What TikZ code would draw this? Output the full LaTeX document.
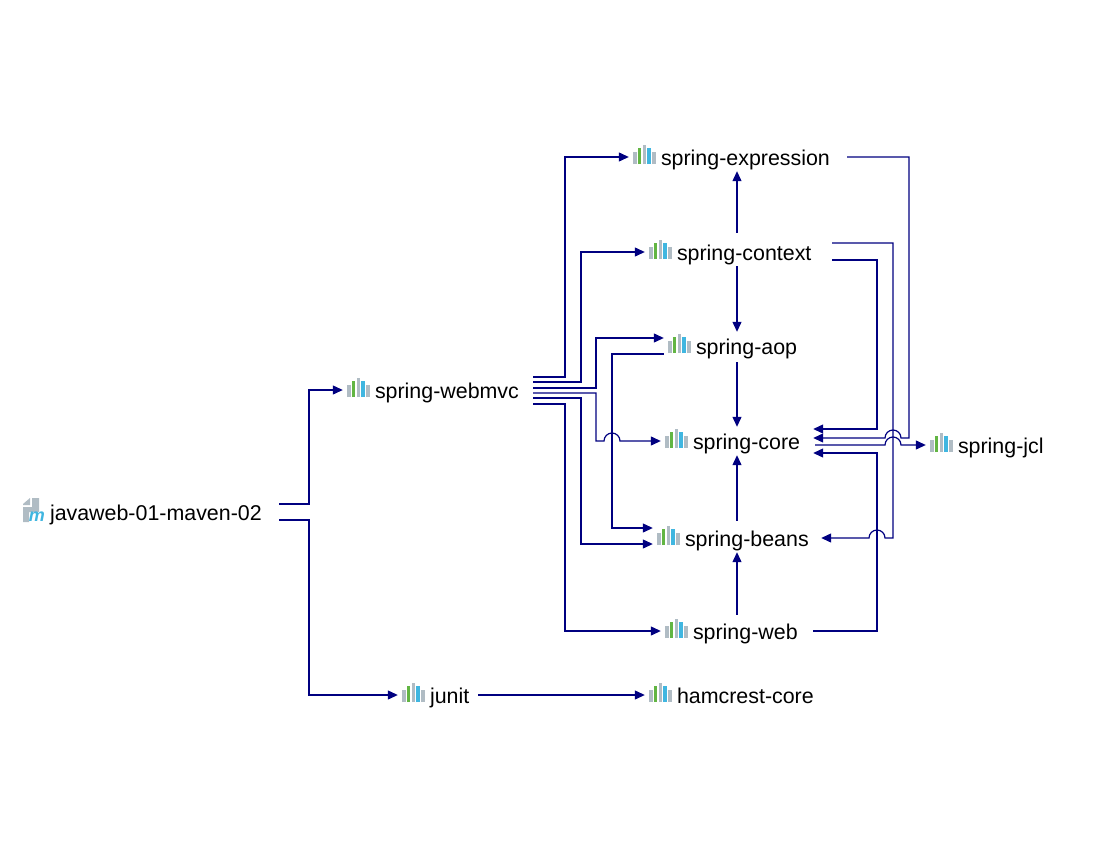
\documentclass[tikz,border=0pt]{standalone}
\usepackage{fontspec}
\setmainfont{Liberation Sans}
\usetikzlibrary{arrows.meta}
\definecolor{linkblue}{RGB}{0,0,128}
\definecolor{jargrey}{RGB}{176,188,196}
\definecolor{jargreen}{RGB}{98,181,67}
\definecolor{jarblue}{RGB}{64,182,224}
\newcommand{\jarbar}[2]{\textcolor{#1}{\rule[1pt]{3.6pt}{#2}}\hspace{1.2pt}}
\newcommand{\jaricon}{\hspace*{4pt}\jarbar{jargrey}{12pt}\jarbar{jargreen}{16pt}\jarbar{jargrey}{19pt}\jarbar{jarblue}{16pt}\jarbar{jargrey}{12pt}\hspace{4pt}}
\tikzset{
  dep/.style={text width=#1, align=left, inner sep=0pt, minimum height=28pt,
    text height=21pt, text depth=5pt, font=\fontsize{21.4}{24}\selectfont},
  link/.style={draw=linkblue, line width=1.2pt, -{Triangle[length=10pt,width=9pt]}},
  hop/.style={radius=8pt}
}
\begin{document}
\begin{tikzpicture}[x=1pt, y=-1pt]
\useasboundingbox (0,0) rectangle (1110,864);

\node[dep=259] (root) at (149.5,512) {\hspace*{30pt}javaweb-01-maven-02};
\fill[jargrey] (23,504) -- (30,498) -- (30,505) -- (23,505) -- cycle;
\fill[jargrey] (32,498) -- (39,498) -- (39,512) -- (29,512) -- (29,522) -- (23,522) -- (23,507) -- (32,507) -- cycle;
\node[inner sep=0pt, text=jarblue, font=\fontsize{18}{18}\bfseries\itshape\selectfont] (rootm) at (37,517) {m};

\node[dep=190] (webmvc) at (438,390) {\jaricon spring-webmvc};
\node[dep=80] (junit) at (438,695) {\jaricon junit};
\node[dep=216] (expression) at (737,157) {\jaricon spring-expression};
\node[dep=184] (context) at (737,252) {\jaricon spring-context};
\node[dep=146] (aop) at (737,346) {\jaricon spring-aop};
\node[dep=152] (core) at (737,441) {\jaricon spring-core};
\node[dep=168] (beans) at (737,538) {\jaricon spring-beans};
\node[dep=152] (web) at (737,631) {\jaricon spring-web};
\node[dep=184] (hamcrest) at (737,695) {\jaricon hamcrest-core};
\node[dep=134] (jcl) at (993,445) {\jaricon spring-jcl};

% routing channels
\coordinate (chanroot) at (309,0);
\coordinate (chanA) at (565,0);
\coordinate (chanB) at (581,0);
\coordinate (chanC) at (596,0);
\coordinate (chanD) at (612,0);
\coordinate (chanE) at (877,0);
\coordinate (chanF) at (893,0);
\coordinate (chanG) at (909,0);

% ports
\coordinate (rootup) at ([yshift=8pt]root.east);
\coordinate (rootdown) at ([yshift=-8pt]root.east);
\coordinate (webmvcA) at ([yshift=13pt]webmvc.east);
\coordinate (webmvcB) at ([yshift=8pt]webmvc.east);
\coordinate (webmvcC) at ([yshift=2pt]webmvc.east);
\coordinate (webmvcD) at ([yshift=-3pt]webmvc.east);
\coordinate (webmvcE) at ([yshift=-8pt]webmvc.east);
\coordinate (webmvcF) at ([yshift=-14pt]webmvc.east);
\coordinate (aopin) at ([yshift=8pt]aop.west);
\coordinate (aopout) at ([yshift=-8pt]aop.west);
\coordinate (beansA) at ([yshift=10pt]beans.west);
\coordinate (beansB) at ([yshift=-6pt]beans.west);
\coordinate (exprout) at ([xshift=2pt]expression.east);
\coordinate (contextA) at ([xshift=3pt,yshift=9pt]context.east);
\coordinate (contextB) at ([xshift=3pt,yshift=-8pt]context.east);
\coordinate (coreA) at ([yshift=12pt]core.east);
\coordinate (coreB) at ([yshift=3pt]core.east);
\coordinate (coreC) at ([xshift=2pt,yshift=-4pt]core.east);
\coordinate (coreD) at ([yshift=-12pt]core.east);

\draw[link] (rootup) -- (rootup -| chanroot) -- (chanroot |- webmvc.west) -- (webmvc.west);
\draw[link] (rootdown) -- (rootdown -| chanroot) -- (chanroot |- junit.west) -- (junit.west);

\draw[link] (webmvcA) -- (webmvcA -| chanA) -- (chanA |- expression.west) -- (expression.west);
\draw[link] (webmvcB) -- (webmvcB -| chanB) -- (chanB |- context.west) -- (context.west);
\draw[link] (webmvcC) -- (webmvcC -| chanC) -- (chanC |- aopin) -- (aopin);
\draw[link] (webmvcD) -- (webmvcD -| chanC) -- (chanC |- core.west) -- ([xshift=-8pt]chanD |- core.west) arc[start angle=180, end angle=0, hop] -- (core.west);
\draw[link] (webmvcE) -- (webmvcE -| chanB) -- (chanB |- beansB) -- (beansB);
\draw[link] (webmvcF) -- (webmvcF -| chanA) -- (chanA |- web.west) -- (web.west);
\draw[link] (aopout) -- (aopout -| chanD) -- (chanD |- beansA) -- (beansA);

\draw[link] ([yshift=5pt]context.north) -- (expression.south);
\draw[link] (context.south) -- (aop.north);
\draw[link] ([yshift=-2pt]aop.south) -- (core.north);
\draw[link] ([yshift=3pt]beans.north) -- (core.south);
\draw[link] ([yshift=2pt]web.north) -- (beans.south);

\draw[link] (exprout) -- (exprout -| chanG) -- (chanG |- coreB) -- ([xshift=8pt]chanF |- coreB) arc[start angle=0, end angle=180, hop] -- (coreB);
\draw[link] (contextA) -- (contextA -| chanF) -- (chanF |- beans.east) -- ([xshift=8pt]chanE |- beans.east) arc[start angle=0, end angle=180, hop] -- (beans.east);
\draw[link] (contextB) -- (contextB -| chanE) -- (chanE |- coreA) -- (coreA);
\draw[link] (coreC) -- ([xshift=-8pt]chanF |- coreC) arc[start angle=180, end angle=0, hop] -- (jcl.west);
\draw[link] (web.east) -- (web.east -| chanE) -- (chanE |- coreD) -- (coreD);
\draw[link] (junit.east) -- (hamcrest.west);
\end{tikzpicture}
\end{document}
